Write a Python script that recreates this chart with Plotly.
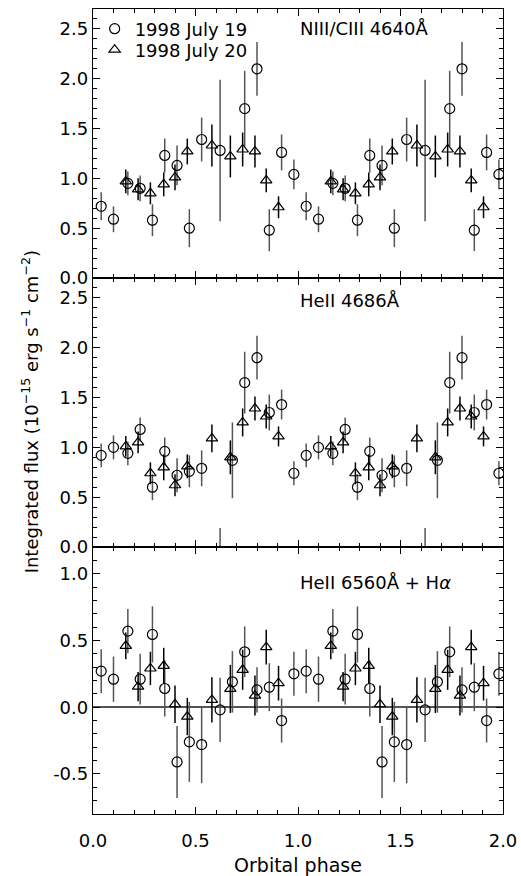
import numpy as np
import plotly.graph_objects as go
from plotly.subplots import make_subplots

# Orbital phases of the two nights (one cycle; plotted twice)
phase_jul19 = [0.04, 0.10, 0.17, 0.23, 0.29, 0.35, 0.41, 0.47, 0.53, 0.62, 0.68, 0.74, 0.80, 0.86, 0.92, 0.98]
phase_jul20 = [0.16, 0.22, 0.28, 0.345, 0.40, 0.46, 0.58, 0.67, 0.73, 0.79, 0.845, 0.905]

# NIII/CIII 4640 A
n3_jul19 = [0.72, 0.59, 0.95, 0.90, 0.58, 1.23, 1.13, 0.50, 1.39, 1.28, np.nan, 1.70, 2.10, 0.48, 1.26, 1.04]
n3_jul19_err = [0.14, 0.13, 0.12, 0.13, 0.16, 0.17, 0.20, 0.19, 0.22, 0.71, np.nan, 0.38, 0.27, 0.21, 0.18, 0.15]
n3_jul20 = [0.97, 0.89, 0.85, 0.94, 1.01, 1.27, 1.33, 1.22, 1.29, 1.27, 0.98, 0.71]
n3_jul20_err = [0.12, 0.11, 0.11, 0.12, 0.13, 0.13, 0.21, 0.21, 0.17, 0.16, 0.12, 0.11]

# HeII 4686 A
he4686_jul19 = [0.92, 1.00, 0.94, 1.18, 0.60, 0.96, 0.72, 0.76, 0.79, -0.52, 0.87, 1.65, 1.90, 1.35, 1.43, 0.74]
he4686_jul19_err = [0.12, 0.12, 0.12, 0.12, 0.13, 0.14, 0.17, 0.16, 0.18, 0.71, 0.38, 0.31, 0.22, 0.18, 0.15, 0.12]
he4686_jul20 = [1.01, 1.05, 0.74, 0.80, 0.62, 0.81, 1.09, 0.90, 1.25, 1.39, 1.31, 1.11]
he4686_jul20_err = [0.105, 0.11, 0.11, 0.13, 0.11, 0.12, 0.14, 0.17, 0.14, 0.12, 0.12, 0.10]

# HeII 6560 A + H-alpha
ha_jul19 = [0.27, 0.21, 0.57, 0.21, 0.545, 0.14, -0.41, -0.26, -0.28, -0.02, 0.19, 0.415, 0.13, 0.15, -0.10, 0.25]
ha_jul19_err = [0.165, 0.17, 0.165, 0.19, 0.21, 0.21, 0.27, 0.30, 0.29, 0.24, 0.23, 0.19, 0.17, 0.18, 0.165, 0.165]
ha_jul20 = [0.46, 0.154, 0.29, 0.31, 0.022, -0.07, 0.055, 0.137, 0.28, 0.087, 0.45, 0.18]
ha_jul20_err = [0.10, 0.11, 0.125, 0.135, 0.14, 0.14, 0.17, 0.18, 0.15, 0.15, 0.13, 0.13]

panel_labels = ["NIII/CIII 4640Å", "HeII 4686Å", "HeII 6560Å + H<i>α</i>"]
legend_names = ["1998 July 19", "1998 July 20"]

FONT = "DejaVu Sans"
FS = 18

def two_cycles(seq):
    arr = np.asarray(seq, dtype=float)
    return np.concatenate([arr, arr])

def phases_two_cycles(seq):
    arr = np.asarray(seq, dtype=float)
    return np.concatenate([arr, arr + 1.0])

fig = make_subplots(rows=3, cols=1, shared_xaxes=True, vertical_spacing=0)

panels = [
    (n3_jul19, n3_jul19_err, n3_jul20, n3_jul20_err),
    (he4686_jul19, he4686_jul19_err, he4686_jul20, he4686_jul20_err),
    (ha_jul19, ha_jul19_err, ha_jul20, ha_jul20_err),
]

for i, (y19, e19, y20, e20) in enumerate(panels, start=1):
    fig.add_trace(go.Scatter(
        x=phases_two_cycles(phase_jul19), y=two_cycles(y19),
        mode="markers", name=legend_names[0], showlegend=(i == 1), legend="legend",
        marker=dict(symbol="circle-open", size=10, color="black", line=dict(width=1.2)),
        error_y=dict(type="data", array=two_cycles(e19), visible=True,
                     color="#555555", thickness=1.5, width=0),
    ), row=i, col=1)
    fig.add_trace(go.Scatter(
        x=phases_two_cycles(phase_jul20), y=two_cycles(y20),
        mode="markers", name=legend_names[1], showlegend=(i == 1), legend="legend2",
        marker=dict(symbol="triangle-up-open", size=10, color="black", line=dict(width=1.2)),
        error_y=dict(type="data", array=two_cycles(e20), visible=True,
                     color="black", thickness=1.5, width=0),
    ), row=i, col=1)

axis_common = dict(
    showline=True, linecolor="black", linewidth=1.3, mirror="ticks",
    ticks="inside", ticklen=7, tickwidth=1.2, tickcolor="black", automargin=False,
    showgrid=False, tickfont=dict(family=FONT, size=FS, color="black"),
)
minor_common = dict(ticks="inside", ticklen=4, tickwidth=1, tickcolor="black", showgrid=False)

for i in range(1, 4):
    fig.update_xaxes(range=[0, 2], tickmode="linear", tick0=0, dtick=0.5, tickformat=".1f",
                     minor=dict(dtick=0.1, tick0=0, **minor_common), ticklabelstandoff=10,
                     zeroline=False, showticklabels=(i == 3), **axis_common, row=i, col=1)

for i in (1, 2):
    fig.update_yaxes(range=[0, 2.7], tickmode="linear", tick0=0, dtick=0.5, tickformat=".1f",
                     minor=dict(dtick=0.1, tick0=0, **minor_common),
                     zeroline=False, **axis_common, row=i, col=1)

ha_ticks = [-0.5, 0.0, 0.5, 1.0]
fig.update_yaxes(range=[-0.8, 1.2], tickmode="array", tickvals=ha_ticks,
                 ticktext=[f"{v:.1f}" for v in ha_ticks],
                 minor=dict(tickmode="linear", dtick=0.1, tick0=0, **minor_common),
                 zeroline=True, zerolinecolor="#555555", zerolinewidth=1.5,
                 **axis_common, row=3, col=1)

# panel heights (bottom to top)
h_total = 805
d3 = 267 / h_total
d2 = (267 + 269) / h_total
fig.update_layout(
    yaxis=dict(domain=[d2, 1.0]),
    yaxis2=dict(domain=[d3, d2]),
    yaxis3=dict(domain=[0.0, d3]),
)

fig.update_xaxes(title=dict(text="Orbital phase", font=dict(family=FONT, size=FS + 1, color="black"),
                            standoff=8), row=3, col=1)

label_y = [2.5, 2.47, 0.935]
for i, (txt, yv) in enumerate(zip(panel_labels, label_y), start=1):
    fig.add_annotation(text=txt, x=1.0, y=yv, xref=f"x{'' if i == 1 else i}", yref=f"y{'' if i == 1 else i}",
                       xanchor="left", yanchor="middle", showarrow=False,
                       font=dict(family=FONT, size=FS, color="black"))

fig.add_annotation(
    text="Integrated flux (10<sup>−15</sup> erg s<sup>−1</sup> cm<sup>−2</sup>)",
    x=-0.154, y=0.5, xref="paper", yref="paper", textangle=-90,
    xanchor="center", yanchor="middle", showarrow=False,
    font=dict(family=FONT, size=FS, color="black"),
)

legend_style = dict(xanchor="left", yanchor="middle", bgcolor="rgba(0,0,0,0)",
                    font=dict(family=FONT, size=FS, color="black"), itemwidth=30)
fig.update_layout(
    width=521, height=876,
    margin=dict(l=93, r=18, t=9, b=62, autoexpand=False),
    paper_bgcolor="white", plot_bgcolor="white",
    font=dict(family=FONT, size=FS, color="black"),
    showlegend=True,
    legend=dict(x=0.004, y=1 - 20 / 805, **legend_style),
    legend2=dict(x=0.004, y=1 - 41 / 805, **legend_style),
)

fig.write_html("out.html")
